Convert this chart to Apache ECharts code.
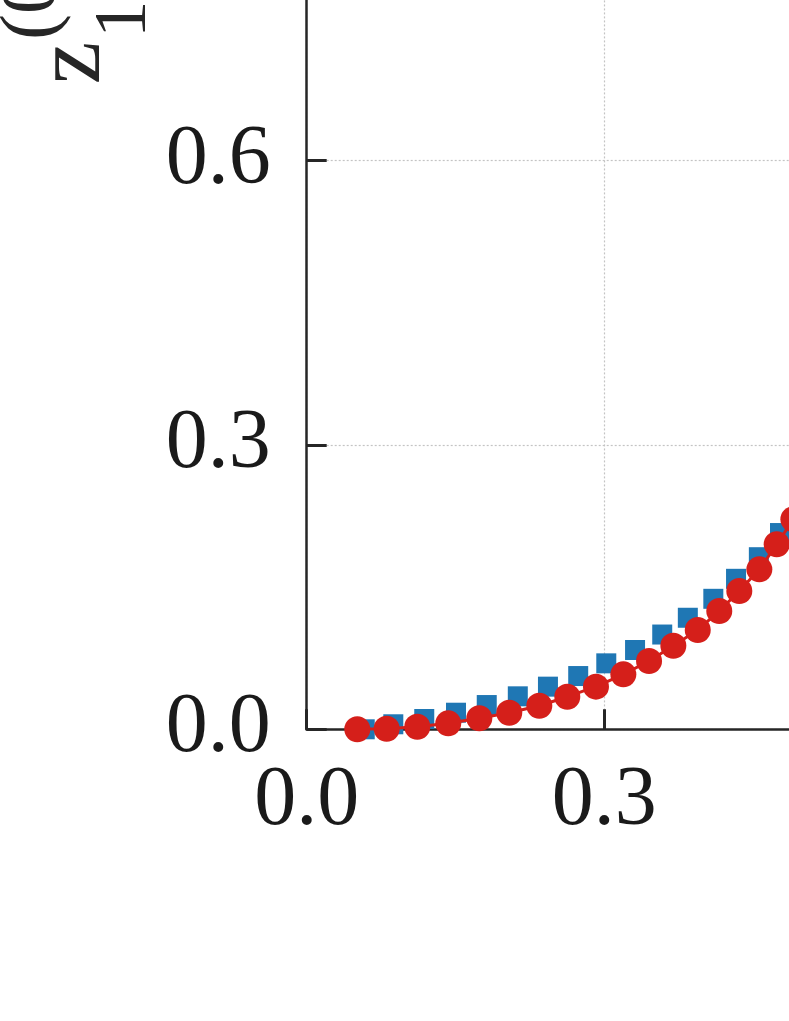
<!DOCTYPE html>
<html>
<head>
<meta charset="utf-8">
<script src="https://cdn.jsdelivr.net/npm/echarts@6/dist/echarts.min.js"></script>
<style>
html,body{margin:0;padding:0;background:#fff;}
#c{width:789px;height:1021px;}
</style>
</head>
<body>
<div id="c"></div>
<script>
// Tick labels
const xTicks = ['0.0', '0.3', '0.6'];
const yTicks = ['0.0', '0.3', '0.6', '0.9'];
// Blue squares (x, y)
const blueX = [0.0585, 0.0873, 0.1185, 0.1505, 0.1815, 0.2128, 0.2432, 0.2737, 0.3020, 0.3310, 0.3584, 0.3842, 0.4099, 0.4328, 0.4558, 0.4771];
const blueY = [0.0000, 0.0053, 0.0109, 0.0175, 0.0256, 0.0348, 0.0450, 0.0562, 0.0696, 0.0837, 0.1000, 0.1177, 0.1377, 0.1588, 0.1816, 0.2071];
// Red circles (x, y)
const redX = [0.0510, 0.0806, 0.1115, 0.1427, 0.1740, 0.2042, 0.2345, 0.2627, 0.2916, 0.3192, 0.3451, 0.3696, 0.3942, 0.4159, 0.4361, 0.4563, 0.4738, 0.4906];
const redY = [0.0000, 0.0006, 0.0027, 0.0063, 0.0116, 0.0175, 0.0249, 0.0344, 0.0450, 0.0580, 0.0721, 0.0882, 0.1048, 0.1248, 0.1459, 0.1688, 0.1952, 0.2217];

const blueData = blueX.map((x, i) => [x, blueY[i]]);
const redData = redX.map((x, i) => [x, redY[i]]);

const chart = echarts.init(document.getElementById('c'), null, {renderer: 'canvas'});
const serif = "'Liberation Serif', 'Times New Roman', serif";
const ink = '#262626';

chart.setOption({
  animation: false,
  backgroundColor: '#ffffff',
  grid: {left: 306.7, top: -123.6, width: 595.2, height: 852.9, containLabel: false, outerBoundsMode: 'none'},
  xAxis: {
    type: 'value', min: 0, max: 0.6, interval: 0.3,
    axisLine: {show: true, onZero: false, lineStyle: {color: ink, width: 2.5}},
    axisTick: {show: true, inside: true, length: 20, lineStyle: {color: ink, width: 3}},
    axisLabel: {fontFamily: serif, fontSize: 84, color: '#1a1a1a', margin: 31,
      formatter: v => xTicks[Math.round(v / 0.3)]},
    splitLine: {show: true, lineStyle: {color: '#c4c4c4', width: 1.2, type: [2, 2]}}
  },
  yAxis: {
    type: 'value', min: 0, max: 0.9, interval: 0.3,
    axisLine: {show: true, onZero: false, lineStyle: {color: ink, width: 2.5}},
    axisTick: {show: true, inside: true, length: 20, lineStyle: {color: ink, width: 3}},
    axisLabel: {fontFamily: serif, fontSize: 84, color: '#1a1a1a', margin: 36,
      formatter: v => yTicks[Math.round(v / 0.3)]},
    splitLine: {show: true, lineStyle: {color: '#c4c4c4', width: 1.2, type: [2, 2]}}
  },
  graphic: [
    {type: 'text', x: 74, y: 63, rotation: Math.PI / 2, silent: true,
      style: {text: 'z', font: "96px 'Liberation Serif'", fill: ink, align: 'center', verticalAlign: 'middle'}},
    {type: 'text', x: 125, y: 38, rotation: Math.PI / 2, silent: true,
      style: {text: '1', font: "75px 'Liberation Serif'", fill: ink, align: 'left', verticalAlign: 'middle'}},
    {type: 'text', x: 34, y: 40, rotation: Math.PI / 2, silent: true,
      style: {text: '(0)', font: "78px 'Liberation Serif'", fill: ink, align: 'left', verticalAlign: 'middle'}}
  ],
  series: [
    {type: 'scatter', data: blueData, symbol: 'rect', symbolSize: 20,
      itemStyle: {color: '#1f77b4', opacity: 1}, z: 2},
    {type: 'line', data: redData, symbol: 'circle', symbolSize: 26, showSymbol: true,
      lineStyle: {color: '#d51f1a', width: 3}, itemStyle: {color: '#d51f1a', opacity: 1}, z: 3}
  ]
});
</script>
</body>
</html>
